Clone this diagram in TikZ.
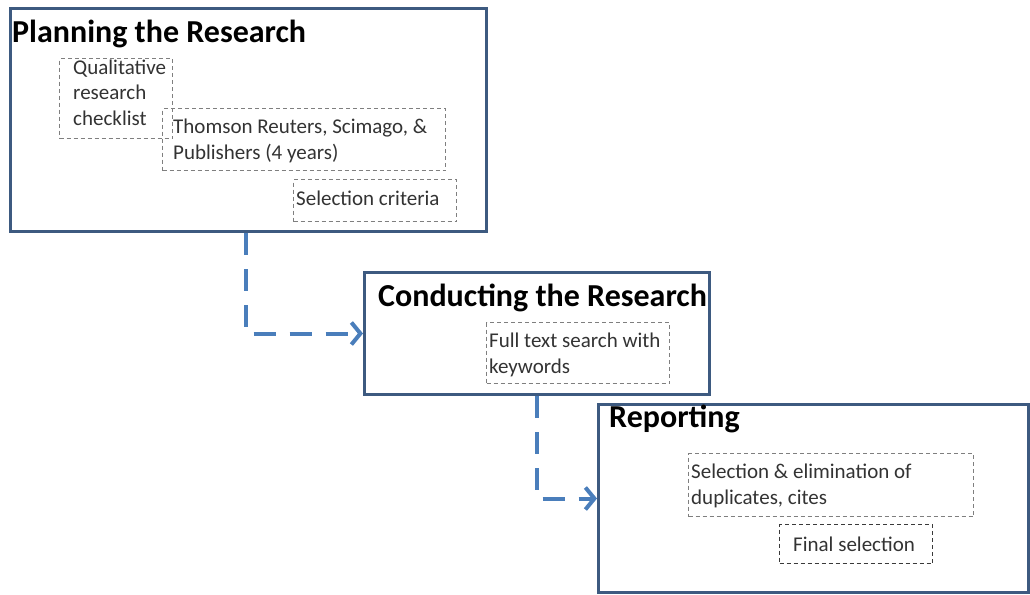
\documentclass[tikz,border=0pt]{standalone}
\usepackage{fontspec}
\setmainfont{Carlito}
\usetikzlibrary{arrows.meta,calc}
\definecolor{boxblue}{HTML}{3D5A80}
\definecolor{arrowblue}{HTML}{4A7EBB}
\definecolor{dashgray}{HTML}{7F7F7F}
\definecolor{dashdark}{HTML}{3A3A3A}
\tikzset{
  phase/.style={draw=boxblue, line width=3pt, fill=white, rectangle, inner sep=0pt, anchor=north west},
  ptitle/.style={font=\bfseries\fontsize{32}{36}\selectfont, anchor=base west, inner sep=0pt},
  task/.style={draw=dashgray, line width=1.1pt, dash pattern=on 4pt off 3pt, rectangle, inner sep=0pt, anchor=north west},
  taskdark/.style={task, draw=dashdark, line width=1.4pt},
  tasktext/.style={font=\fontsize{21}{25.5}\selectfont, color=black!80, anchor=base west, inner sep=0pt, align=left},
  flow/.style={draw=arrowblue, line width=4pt, dash pattern=on 22pt off 14pt, -{Straight Barb[length=9pt,width=22pt,line width=4pt]}}
}
\begin{document}
\begin{tikzpicture}[x=1pt,y=-1pt]
\useasboundingbox (0,0) rectangle (1030,594);
% phase boxes
\node[phase, minimum width=476pt, minimum height=223pt] (plan) at (9,7) {};
\node[phase, minimum width=345pt, minimum height=122pt] (cond) at (363,271) {};
\node[phase, minimum width=430pt, minimum height=188pt] (rep) at (597,403) {};
% titles
\node[ptitle] (planT) at (12,43) {Planning the Research};
\node[ptitle] (condT) at (378,306) {Conducting the Research};
\node[ptitle] (repT) at (609,427) {Reporting};
% task boxes (planning) -- multi-line texts are placed by the baseline of their last line
\node[task, minimum width=113pt, minimum height=80pt] (qualB) at (59,58) {};
\node[tasktext] (qualT) at (73,125) {Qualitative\\research\\checklist};
\node[task, minimum width=283pt, minimum height=62pt] (thomB) at (162,108) {};
\node[tasktext] (thomT) at (173,159) {Thomson Reuters, Scimago, \&\\Publishers (4 years)};
\node[task, minimum width=163pt, minimum height=42pt] (selB) at (293,179) {};
\node[tasktext] (selT) at (296,205) {Selection criteria};
% task box (conducting)
\node[task, minimum width=183pt, minimum height=61pt] (fullB) at (486,322) {};
\node[tasktext] (fullT) at (489,373) {Full text search with\\keywords};
% task boxes (reporting)
\node[task, minimum width=285pt, minimum height=63pt] (elimB) at (688,453) {};
\node[tasktext] (elimT) at (691,504) {Selection \& elimination of\\duplicates, cites};
\node[taskdark, minimum width=153pt, minimum height=39pt] (finB) at (779,524) {};
\node[tasktext] (finT) at (793,551) {Final selection};
% connectors
\coordinate (c1) at ($(plan.south west)+(237,0)$);
\coordinate (c2) at ($(cond.south west)+(174,0)$);
\draw[flow] (c1) |- (cond.west);
\draw[flow] (c2) |- (rep.west);
\end{tikzpicture}
\end{document}
